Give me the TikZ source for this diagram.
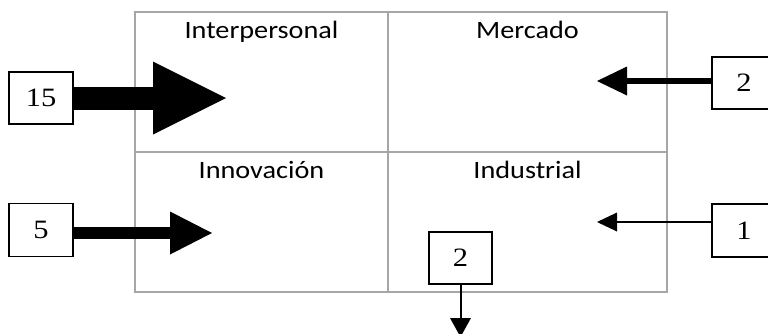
\documentclass[tikz,border=0pt]{standalone}
\usepackage{fontspec}
\usepackage{tikz}
\usetikzlibrary{arrows.meta}
\newfontfamily\cellfont[FakeStretch=1.13]{Carlito}
\newfontfamily\numfont[FakeStretch=1.15]{Liberation Serif}
\tikzstyle{cell} = [rectangle, draw=gray!70, line width=2.5pt, minimum height=140pt,
                 inner sep=0pt]
\tikzstyle{celltitle} = [anchor=north, inner sep=0pt, text height=16pt,
                 font=\cellfont\fontsize{25}{25}\selectfont]
\tikzstyle{numbox} = [rectangle, draw, fill=white, line width=1.5pt, minimum width=64pt,
                 minimum height=52pt, inner sep=0pt, font=\numfont\fontsize{26.5}{26.5}\selectfont]
\tikzstyle{flow} = [draw, line cap=butt]

\begin{document}
\begin{tikzpicture}[x=1pt, y=-1pt]

\useasboundingbox (0,0) rectangle (768,333);

    	%cells
\foreach \cx/\cy/\w/\name/\title in {261.5/82/253/inter/Interpersonal, 527.5/82/279/merc/Mercado,
	261.5/222/253/innov/Innovación, 527.5/222/279/indus/Industrial}
{
	\node [cell, minimum width=\w pt] at (\cx,\cy) (\name) {};
	\node [celltitle] at ([yshift=-11.5pt]\name.north) {\title};
}

\node [numbox] at (41,98) (n15) {15};
\node [numbox, minimum height=53pt] at (41,230) (n5) {5};
\node [numbox] at (744,83) (n2m) {2};
\node [numbox, minimum height=53pt] at (744,230.5) (n1) {1};
\node [numbox, minimum width=63pt] at (460.5,258) (n2b) {2};

\coordinate (t15) at (226,98);
\coordinate (t5) at (212,233);
\coordinate (t2m) at (597,81);
\coordinate (t1) at (597,222);
\coordinate (t2b) at (460.5,337);

    	%flows
\draw [flow, line width=23pt, -{Triangle[length=73pt, width=73pt, line width=0pt]}] (n15.east) -- (t15);
\draw [flow, line width=12pt, -{Triangle[length=42pt, width=43pt, line width=0pt]}] (n5.east |- t5) -- (t5);
\draw [flow, line width=6pt, -{Triangle[length=30pt, width=29pt, line width=0pt]}] (n2m.west |- t2m) -- (t2m);
\draw [flow, line width=2pt, -{Triangle[length=20pt, width=19pt, line width=0pt]}] (n1.west |- t1) -- (t1);
\draw [flow, line width=2pt, -{Triangle[length=19pt, width=21pt, line width=0pt]}] (n2b.south) -- (t2b);

\end{tikzpicture}
\end{document}
